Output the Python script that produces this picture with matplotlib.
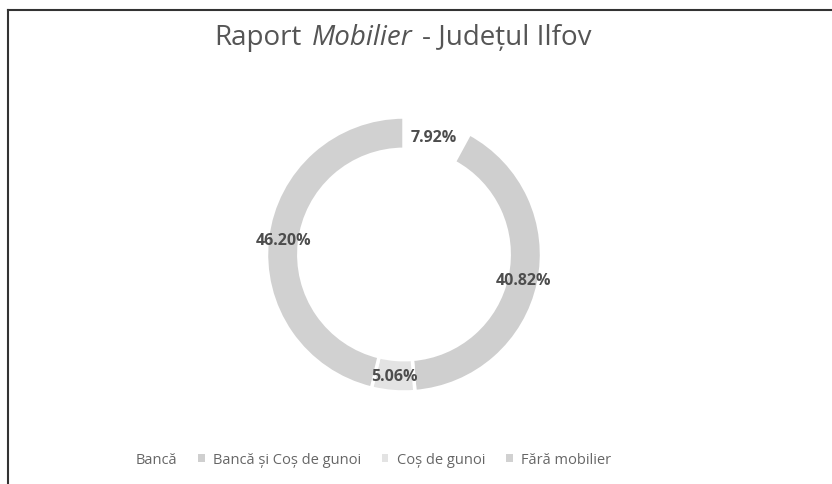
import numpy as np
import matplotlib
matplotlib.use("Agg")
import matplotlib.pyplot as plt
from matplotlib.patches import Patch
from matplotlib.lines import Line2D
from matplotlib.offsetbox import TextArea, HPacker, AnnotationBbox

# date
categorii = ['Bancă', 'Bancă și Coș de gunoi', 'Coș de gunoi', 'Fără mobilier']
procente = [7.92, 40.82, 5.06, 46.20]
etichete = ['7.92%', '40.82%', '5.06%', '46.20%']
culori = ['#ffffff', '#cfcfcf', '#e3e3e3', '#d1d1d1']

plt.rcParams['font.family'] = ['Open Sans', 'DejaVu Sans']

W, H = 832, 485
fig = plt.figure(figsize=(W / 100, H / 100), dpi=100)
fig.patch.set_facecolor('white')

# gogoasa
cx, cy, R = 404, 255.5, 137.5
ax = fig.add_axes([(cx - R) / W, (H - cy - R) / H, 2 * R / W, 2 * R / H])
wedges, _ = ax.pie(procente, colors=culori, startangle=90, counterclock=False,
                   radius=1, wedgeprops=dict(width=0.235, edgecolor='white', linewidth=2.5))
ax.set_xlim(-1, 1)
ax.set_ylim(-1, 1)
ax.set_aspect('equal')
ax.axis('off')

# etichete procente pe inel
unghi = 90.0
for val, txt in zip(procente, etichete):
    mid = np.deg2rad(unghi - val * 3.6 / 2)
    unghi -= val * 3.6
    ax.text(0.885 * np.cos(mid), 0.885 * np.sin(mid), txt, ha='center', va='center',
            fontsize=11.5, fontweight='bold', color='#4d4d4d')

# titlu cu "Mobilier" italic
tp = dict(fontsize=20, color='#555555')
parti = [TextArea('Raport', textprops=tp),
         TextArea('Mobilier', textprops=dict(tp, style='italic')),
         TextArea('- Județul Ilfov', textprops=tp)]
titlu = HPacker(children=parti, align='baseline', pad=0, sep=7)
fig.add_artist(AnnotationBbox(titlu, (403 / W, 1 - 38 / H), xycoords='figure fraction',
                              frameon=False, box_alignment=(0.5, 0.5)))

# legenda
handles = [Patch(facecolor=c, edgecolor='none') for c in culori]
fig.legend(handles, categorii, loc='center', bbox_to_anchor=(366 / W, 1 - 461 / H),
           ncol=4, frameon=False, handlelength=0.45, handleheight=0.45,
           handletextpad=0.6, columnspacing=1.4, labelcolor='#666666',
           prop=dict(size=10.5))

# chenar (stanga si sus)
fig.add_artist(Line2D([8 / W, 8 / W], [0, 1 - 11 / H], color='#333333', lw=1.5))
fig.add_artist(Line2D([8 / W, 1], [1 - 11 / H, 1 - 11 / H], color='#333333', lw=1.5))

fig.savefig('out.png', dpi=100)
